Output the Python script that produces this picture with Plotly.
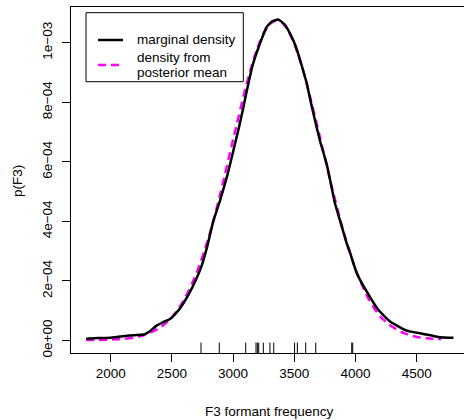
import plotly.graph_objects as go

# ---- data ----
marg_x = [1800, 1900, 2000, 2100, 2150, 2200, 2270, 2310, 2375, 2430, 2485, 2530, 2570,
          2635, 2700, 2745, 2785, 2838, 2893, 2950, 3002, 3050, 3083, 3111, 3160, 3220,
          3274, 3320, 3369, 3420, 3465, 3510, 3547, 3601, 3642, 3680, 3710, 3765, 3833,
          3873, 3928, 3955, 4010, 4092, 4186, 4282, 4418, 4554, 4690, 4800]
marg_y = [0.06, 0.08, 0.09, 0.14, 0.17, 0.18, 0.20, 0.28, 0.50, 0.62, 0.72, 0.90, 1.10,
          1.53, 2.07, 2.53, 3.10, 4.00, 4.70, 5.50, 6.37, 7.20, 7.81, 8.37, 9.25, 9.98,
          10.53, 10.72, 10.78, 10.62, 10.31, 9.90, 9.42, 8.64, 7.87, 7.20, 6.70, 5.92, 4.59,
          4.03, 3.26, 2.95, 2.26, 1.64, 1.03, 0.64, 0.33, 0.22, 0.11, 0.09]

post_x = [1800, 1900, 2000, 2100, 2200, 2300, 2400, 2500, 2600, 2700, 2800, 2900, 3000,
          3100, 3150, 3200, 3250, 3300, 3350, 3400, 3450, 3500, 3550, 3600, 3700, 3800,
          3900, 4000, 4100, 4200, 4300, 4400, 4500, 4600, 4700]
post_y = [0.015, 0.02, 0.03, 0.05, 0.10, 0.22, 0.42, 0.78, 1.37, 2.25, 3.45, 5.00, 6.75,
          8.45, 9.20, 9.84, 10.32, 10.63, 10.75, 10.67, 10.40, 9.96, 9.37, 8.65, 6.99, 5.26,
          3.68, 2.39, 1.45, 0.81, 0.46, 0.24, 0.12, 0.07, 0.05]

rug_x = [2738, 2887, 3103, 3187, 3198, 3209, 3247, 3301, 3332, 3502, 3525, 3593, 3675,
         3969, 3977]

x_ticks = [2000, 2500, 3000, 3500, 4000, 4500]
y_ticks = [0, 2e-4, 4e-4, 6e-4, 8e-4, 1e-3]
y_tick_text = ["0e+00", "2e\u221204", "4e\u221204", "6e\u221204", "8e\u221204", "1e\u221203"]

SCALE = 1e-4
XR = [1676, 4886]
YR = [-4.2e-5, 1.12e-3]

FONT = "Liberation Sans, Arial, Helvetica, sans-serif"
FS = 13.5

fig = go.Figure()

# rug
rug_h = 0.03 * (YR[1] - YR[0])
rx, ry = [], []
for v in rug_x:
    rx += [v, v, None]
    ry += [YR[0], YR[0] + rug_h, None]
fig.add_trace(go.Scatter(x=rx, y=ry, mode="lines", line=dict(color="black", width=1),
                         showlegend=False, hoverinfo="skip"))

fig.add_trace(go.Scatter(x=post_x, y=[v * SCALE for v in post_y], mode="lines",
                         name="density from posterior mean",
                         line=dict(color="#FF00FF", width=2.5, dash="8px,5px", shape="spline",
                                   smoothing=0.6),
                         showlegend=False))
fig.add_trace(go.Scatter(x=marg_x, y=[v * SCALE for v in marg_y], mode="lines",
                         name="marginal density",
                         line=dict(color="black", width=2.5, shape="spline", smoothing=0.4),
                         showlegend=False))

L, T, W, H = 71, 7, 464, 420
B = 67
pw = W - L
ph = H - T - B


def px_x(p):
    return (p - L) / pw


def px_y(p):
    return (H - B - p) / ph


# manual legend
shapes = [
    dict(type="rect", xref="paper", yref="paper", x0=px_x(86), x1=px_x(243.3),
         y0=px_y(81.7), y1=px_y(12.7), line=dict(color="black", width=1)),
    dict(type="line", xref="paper", yref="paper", x0=px_x(98), x1=px_x(123),
         y0=px_y(40), y1=px_y(40), line=dict(color="black", width=2.5)),
    dict(type="line", xref="paper", yref="paper", x0=px_x(98), x1=px_x(124),
         y0=px_y(65), y1=px_y(65), line=dict(color="#FF00FF", width=2.5, dash="8px,5px")),
]

annotations = []
for txt, yy in [("marginal density", 40), ("density from", 57.7), ("posterior mean", 73)]:
    annotations.append(dict(text=txt, xref="paper", yref="paper", x=px_x(134.5), y=px_y(yy),
                            xanchor="left", yanchor="middle", showarrow=False,
                            font=dict(family=FONT, size=FS, color="black")))
annotations.append(dict(text="F3 formant frequency", xref="paper", yref="paper",
                        x=px_x(269.5), y=px_y(411.7), xanchor="center", yanchor="middle",
                        showarrow=False, font=dict(family=FONT, size=FS, color="black")))
annotations.append(dict(text="p(F3)", xref="paper", yref="paper",
                        x=px_x(17), y=px_y(181), xanchor="center", yanchor="middle",
                        textangle=-90, showarrow=False,
                        font=dict(family=FONT, size=FS, color="black")))

fig.update_layout(
    width=W, height=H,
    margin=dict(l=L, r=0, t=T, b=B, pad=0),
    paper_bgcolor="white", plot_bgcolor="white",
    font=dict(family=FONT, size=FS, color="black"),
    shapes=shapes, annotations=annotations,
    showlegend=False,
    xaxis=dict(range=XR, tickvals=x_ticks, ticktext=[str(v) for v in x_ticks],
               showgrid=False, zeroline=False, showline=True, linecolor="black",
               linewidth=1, mirror=True, ticks="outside", ticklen=8, tickcolor="black",
               tickwidth=1, tickfont=dict(family=FONT, size=FS, color="black")),
    yaxis=dict(range=YR, tickvals=y_ticks, ticktext=y_tick_text, tickangle=-90,
               ticklabelstandoff=5,
               showgrid=False, zeroline=False, showline=True, linecolor="black",
               linewidth=1, mirror=False, ticks="outside", ticklen=8, tickcolor="black",
               tickwidth=1, tickfont=dict(family=FONT, size=FS, color="black")),
)

fig.write_html("out.html")
